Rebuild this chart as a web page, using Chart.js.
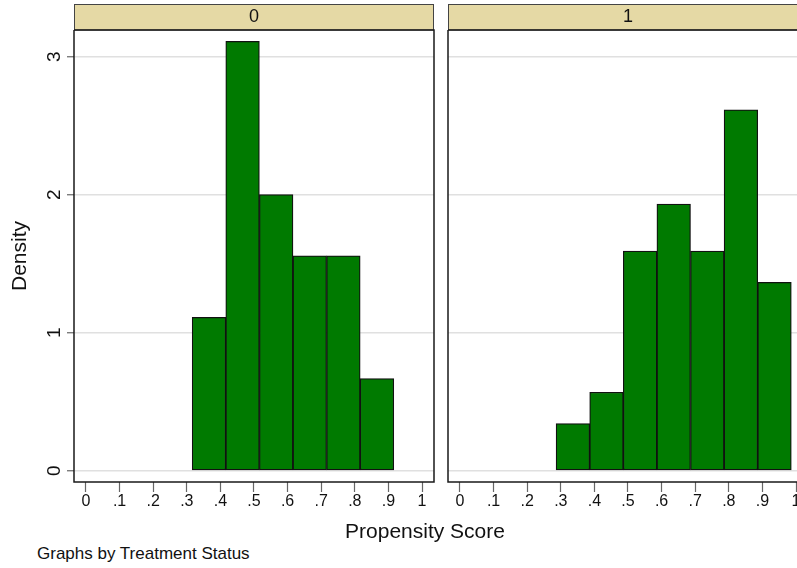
<!DOCTYPE html>
<html><head><meta charset="utf-8">
<script src="https://cdn.jsdelivr.net/npm/chart.js@4"></script>
<style>
html,body{margin:0;padding:0;background:#fff;width:797px;height:568px;overflow:hidden;position:relative;}
canvas{position:absolute;top:0;}
#c0{left:0}
#c1{left:440px}
.txt{position:absolute;font-family:"Liberation Sans",Arial,sans-serif;color:#111;line-height:1;white-space:nowrap;}
</style></head><body>
<canvas id="c0" width="440" height="520"></canvas>
<canvas id="c1" width="370" height="520"></canvas>
<div class="txt" id="xtitle" style="left:325px;width:200px;text-align:center;top:520px;font-size:21px;"></div>
<div class="txt" id="note" style="left:37px;top:545px;font-size:17px;"></div>
<script>
const panelLabels = ['0', '1'];
const xTickValues = [0, 0.1, 0.2, 0.3, 0.4, 0.5, 0.6, 0.7, 0.8, 0.9, 1];
const xTickLabels = ['0', '.1', '.2', '.3', '.4', '.5', '.6', '.7', '.8', '.9', '1'];
const yTickValues = [0, 1, 2, 3];
const yTickLabels = ['0', '1', '2', '3'];
const binWidth = 0.1;
const controlBinStarts = [0.316, 0.416, 0.516, 0.616, 0.716, 0.816];
const controlDensity = [1.111, 3.111, 2.000, 1.556, 1.556, 0.667];
const treatedBinStarts = [0.286, 0.386, 0.486, 0.586, 0.686, 0.786, 0.886];
const treatedDensity = [0.341, 0.568, 1.591, 1.932, 1.591, 2.614, 1.364];
const yTitle = 'Density';
const xTitle = 'Propensity Score';
const noteText = 'Graphs by Treatment Status';

document.getElementById('xtitle').textContent = xTitle;
document.getElementById('note').textContent = noteText;

const FAMILY = '"Liberation Sans", Arial, sans-serif';

const deco = {
  id: 'panelDeco',
  afterDraw(chart, args, opts) {
    const ctx = chart.ctx;
    const {left, right, top, bottom} = chart.chartArea;
    ctx.save();
    ctx.fillStyle = '#e5d9a5';
    ctx.fillRect(left, 4, right - left, top - 4);
    ctx.strokeStyle = '#444';
    ctx.lineWidth = 1;
    ctx.strokeRect(left + 0.5, 4.5, right - left - 1, top - 4.5);
    ctx.fillStyle = '#111';
    ctx.font = '18px ' + FAMILY;
    ctx.textAlign = 'center';
    ctx.textBaseline = 'alphabetic';
    ctx.fillText(opts.label, (left + right) / 2, 21.5);
    ctx.strokeStyle = '#1a1a1a';
    ctx.lineWidth = 1.5;
    ctx.beginPath();
    ctx.moveTo(left, top);
    ctx.lineTo(left, bottom);
    ctx.lineTo(right, bottom);
    ctx.lineTo(right, top);
    ctx.lineTo(left, top);
    ctx.stroke();
    if (opts.yLabels) {
      const ys = chart.scales.y;
      ctx.font = '19px ' + FAMILY;
      ctx.fillStyle = '#111';
      ctx.textAlign = 'center';
      ctx.textBaseline = 'alphabetic';
      yTickValues.forEach((v, i) => {
        const py = ys.getPixelForValue(v);
        ctx.save();
        ctx.translate(60, py);
        ctx.rotate(-Math.PI / 2);
        ctx.fillText(yTickLabels[i], 0, 0);
        ctx.restore();
      });
    }
    ctx.restore();
  }
};

function makeChart(id, label, starts, dens, isLeft) {
  const data = starts.map((s, i) => ({x: s + binWidth / 2, y: dens[i]}));
  return new Chart(document.getElementById(id), {
    type: 'bar',
    data: {datasets: [{
      data,
      backgroundColor: '#007a00',
      borderColor: '#111',
      borderWidth: 1.25,
      borderSkipped: false,
      barPercentage: 1,
      categoryPercentage: 1,
      grouped: false
    }]},
    options: {
      responsive: false,
      animation: false,
      devicePixelRatio: 1,
      layout: {padding: {top: 30, right: isLeft ? 6 : 2, left: 0, bottom: 0}},
      plugins: {
        legend: {display: false},
        tooltip: {enabled: false},
        panelDeco: {label, yLabels: isLeft}
      },
      scales: {
        x: {
          type: 'linear',
          offset: false,
          min: -0.0357,
          max: 1.0357,
          afterBuildTicks: s => { s.ticks = xTickValues.map(v => ({value: v})); },
          afterFit: s => { s.height = 38; },
          grid: {offset: false, drawOnChartArea: false, drawTicks: true, tickLength: 10, tickColor: '#666', tickWidth: 1.2},
          border: {display: false},
          ticks: {
            padding: 0, color: '#111', font: {family: FAMILY, size: 16},
            maxRotation: 0, minRotation: 0, autoSkip: false,
            callback: (v, i) => xTickLabels[i]
          }
        },
        y: {
          type: 'linear',
          min: -0.082,
          max: 3.193,
          afterBuildTicks: s => { s.ticks = yTickValues.map(v => ({value: v})); },
          afterFit: s => { s.width = isLeft ? 74 : 8; },
          grid: {color: '#e0e0e0', lineWidth: 1.5, drawTicks: isLeft, tickLength: 7, tickColor: '#666', tickWidth: 1.2},
          border: {display: false},
          ticks: {display: false},
          title: {display: isLeft, text: yTitle, color: '#111', font: {family: FAMILY, size: 21}, padding: {top: 8, bottom: 0}}
        }
      }
    },
    plugins: [deco]
  });
}

makeChart('c0', panelLabels[0], controlBinStarts, controlDensity, true);
makeChart('c1', panelLabels[1], treatedBinStarts, treatedDensity, false);
</script>
</body></html>
